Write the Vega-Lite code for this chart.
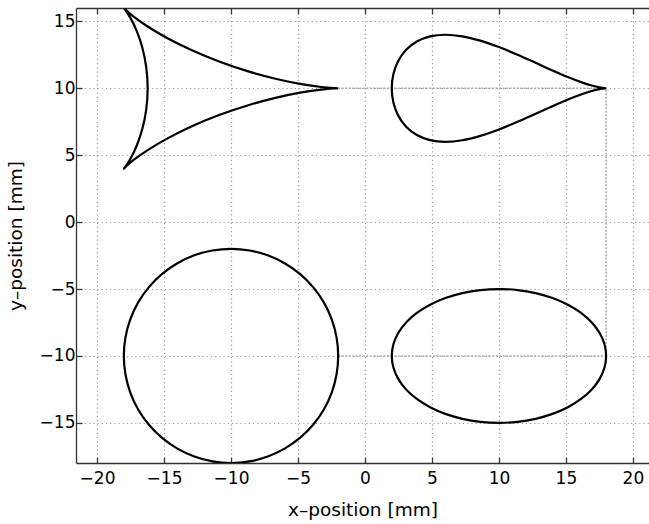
{
  "$schema": "https://vega.github.io/schema/vega-lite/v6.json",
  "width": 573,
  "height": 455,
  "autosize": "none",
  "padding": {"left": 76, "top": 8, "right": 0, "bottom": 61},
  "config": {
    "view": {"stroke": null},
    "font": "DejaVu Sans",
    "axis": {
      "domainColor": "#333333",
      "domainWidth": 1.3,
      "tickColor": "#333333",
      "tickWidth": 1.3,
      "tickSize": -6,
      "labelFontSize": 17,
      "labelColor": "#000000",
      "titleFontSize": 18.5,
      "titleFontWeight": "normal",
      "titleColor": "#000000",
      "gridColor": "#9a9a9a",
      "gridDash": [1.2, 3],
      "gridWidth": 1.2,
      "gridOpacity": 1
    }
  },
  "datasets": {
    "guide": [
      {"i": 0, "x": -2, "y": 10},
      {"i": 1, "x": 18, "y": 10},
      {"i": 2, "x": 18, "y": -10},
      {"i": 3, "x": -2, "y": -10}
    ],
    "round": [
      {"s": "c", "i": 0, "x": -2, "y": -10},
      {"s": "c", "i": 1, "x": -2.122, "y": -8.611},
      {"s": "c", "i": 2, "x": -2.482, "y": -7.264},
      {"s": "c", "i": 3, "x": -3.072, "y": -6},
      {"s": "c", "i": 4, "x": -3.872, "y": -4.858},
      {"s": "c", "i": 5, "x": -4.858, "y": -3.872},
      {"s": "c", "i": 6, "x": -6, "y": -3.072},
      {"s": "c", "i": 7, "x": -7.264, "y": -2.482},
      {"s": "c", "i": 8, "x": -8.611, "y": -2.122},
      {"s": "c", "i": 9, "x": -10, "y": -2},
      {"s": "c", "i": 10, "x": -11.389, "y": -2.122},
      {"s": "c", "i": 11, "x": -12.736, "y": -2.482},
      {"s": "c", "i": 12, "x": -14, "y": -3.072},
      {"s": "c", "i": 13, "x": -15.142, "y": -3.872},
      {"s": "c", "i": 14, "x": -16.128, "y": -4.858},
      {"s": "c", "i": 15, "x": -16.928, "y": -6},
      {"s": "c", "i": 16, "x": -17.518, "y": -7.264},
      {"s": "c", "i": 17, "x": -17.878, "y": -8.611},
      {"s": "c", "i": 18, "x": -18, "y": -10},
      {"s": "c", "i": 19, "x": -17.878, "y": -11.389},
      {"s": "c", "i": 20, "x": -17.518, "y": -12.736},
      {"s": "c", "i": 21, "x": -16.928, "y": -14},
      {"s": "c", "i": 22, "x": -16.128, "y": -15.142},
      {"s": "c", "i": 23, "x": -15.142, "y": -16.128},
      {"s": "c", "i": 24, "x": -14, "y": -16.928},
      {"s": "c", "i": 25, "x": -12.736, "y": -17.518},
      {"s": "c", "i": 26, "x": -11.389, "y": -17.878},
      {"s": "c", "i": 27, "x": -10, "y": -18},
      {"s": "c", "i": 28, "x": -8.611, "y": -17.878},
      {"s": "c", "i": 29, "x": -7.264, "y": -17.518},
      {"s": "c", "i": 30, "x": -6, "y": -16.928},
      {"s": "c", "i": 31, "x": -4.858, "y": -16.128},
      {"s": "c", "i": 32, "x": -3.872, "y": -15.142},
      {"s": "c", "i": 33, "x": -3.072, "y": -14},
      {"s": "c", "i": 34, "x": -2.482, "y": -12.736},
      {"s": "c", "i": 35, "x": -2.122, "y": -11.389},

      {"s": "e", "i": 0, "x": 18, "y": -10},
      {"s": "e", "i": 1, "x": 17.878, "y": -9.132},
      {"s": "e", "i": 2, "x": 17.518, "y": -8.29},
      {"s": "e", "i": 3, "x": 16.928, "y": -7.5},
      {"s": "e", "i": 4, "x": 16.128, "y": -6.786},
      {"s": "e", "i": 5, "x": 15.142, "y": -6.17},
      {"s": "e", "i": 6, "x": 14, "y": -5.67},
      {"s": "e", "i": 7, "x": 12.736, "y": -5.302},
      {"s": "e", "i": 8, "x": 11.389, "y": -5.076},
      {"s": "e", "i": 9, "x": 10, "y": -5},
      {"s": "e", "i": 10, "x": 8.611, "y": -5.076},
      {"s": "e", "i": 11, "x": 7.264, "y": -5.302},
      {"s": "e", "i": 12, "x": 6, "y": -5.67},
      {"s": "e", "i": 13, "x": 4.858, "y": -6.17},
      {"s": "e", "i": 14, "x": 3.872, "y": -6.786},
      {"s": "e", "i": 15, "x": 3.072, "y": -7.5},
      {"s": "e", "i": 16, "x": 2.482, "y": -8.29},
      {"s": "e", "i": 17, "x": 2.122, "y": -9.132},
      {"s": "e", "i": 18, "x": 2, "y": -10},
      {"s": "e", "i": 19, "x": 2.122, "y": -10.868},
      {"s": "e", "i": 20, "x": 2.482, "y": -11.71},
      {"s": "e", "i": 21, "x": 3.072, "y": -12.5},
      {"s": "e", "i": 22, "x": 3.872, "y": -13.214},
      {"s": "e", "i": 23, "x": 4.858, "y": -13.83},
      {"s": "e", "i": 24, "x": 6, "y": -14.33},
      {"s": "e", "i": 25, "x": 7.264, "y": -14.698},
      {"s": "e", "i": 26, "x": 8.611, "y": -14.924},
      {"s": "e", "i": 27, "x": 10, "y": -15},
      {"s": "e", "i": 28, "x": 11.389, "y": -14.924},
      {"s": "e", "i": 29, "x": 12.736, "y": -14.698},
      {"s": "e", "i": 30, "x": 14, "y": -14.33},
      {"s": "e", "i": 31, "x": 15.142, "y": -13.83},
      {"s": "e", "i": 32, "x": 16.128, "y": -13.214},
      {"s": "e", "i": 33, "x": 16.928, "y": -12.5},
      {"s": "e", "i": 34, "x": 17.518, "y": -11.71},
      {"s": "e", "i": 35, "x": 17.878, "y": -10.868}
    ],
    "cusp": [
      {"s": "t", "i": 0, "x": 18, "y": 10},
      {"s": "t", "i": 1, "x": 17.878, "y": 10.008},
      {"s": "t", "i": 2, "x": 17.518, "y": 10.064},
      {"s": "t", "i": 3, "x": 16.928, "y": 10.206},
      {"s": "t", "i": 4, "x": 16.128, "y": 10.463},
      {"s": "t", "i": 5, "x": 15.142, "y": 10.842},
      {"s": "t", "i": 6, "x": 14, "y": 11.333},
      {"s": "t", "i": 7, "x": 12.736, "y": 11.904},
      {"s": "t", "i": 8, "x": 11.389, "y": 12.506},
      {"s": "t", "i": 9, "x": 10, "y": 13.079},
      {"s": "t", "i": 10, "x": 8.611, "y": 13.559},
      {"s": "t", "i": 11, "x": 7.264, "y": 13.883},
      {"s": "t", "i": 12, "x": 6, "y": 14},
      {"s": "t", "i": 13, "x": 4.858, "y": 13.875},
      {"s": "t", "i": 14, "x": 3.872, "y": 13.495},
      {"s": "t", "i": 15, "x": 3.072, "y": 12.873},
      {"s": "t", "i": 16, "x": 2.482, "y": 12.043},
      {"s": "t", "i": 17, "x": 2.122, "y": 11.061},
      {"s": "t", "i": 18, "x": 2, "y": 10},
      {"s": "t", "i": 19, "x": 2.122, "y": 8.939},
      {"s": "t", "i": 20, "x": 2.482, "y": 7.957},
      {"s": "t", "i": 21, "x": 3.072, "y": 7.127},
      {"s": "t", "i": 22, "x": 3.872, "y": 6.505},
      {"s": "t", "i": 23, "x": 4.858, "y": 6.125},
      {"s": "t", "i": 24, "x": 6, "y": 6},
      {"s": "t", "i": 25, "x": 7.264, "y": 6.117},
      {"s": "t", "i": 26, "x": 8.611, "y": 6.441},
      {"s": "t", "i": 27, "x": 10, "y": 6.921},
      {"s": "t", "i": 28, "x": 11.389, "y": 7.494},
      {"s": "t", "i": 29, "x": 12.736, "y": 8.096},
      {"s": "t", "i": 30, "x": 14, "y": 8.667},
      {"s": "t", "i": 31, "x": 15.142, "y": 9.158},
      {"s": "t", "i": 32, "x": 16.128, "y": 9.537},
      {"s": "t", "i": 33, "x": 16.928, "y": 9.794},
      {"s": "t", "i": 34, "x": 17.518, "y": 9.936},
      {"s": "t", "i": 35, "x": 17.878, "y": 9.992},
      {"s": "t", "i": 36, "x": 18, "y": 10},

      {"s": "d", "i": 0, "x": -2, "y": 10},
      {"s": "d", "i": 1, "x": -2.323, "y": 10.012},
      {"s": "d", "i": 2, "x": -3.261, "y": 10.095},
      {"s": "d", "i": 3, "x": -4.731, "y": 10.309},
      {"s": "d", "i": 4, "x": -6.602, "y": 10.695},
      {"s": "d", "i": 5, "x": -8.713, "y": 11.264},
      {"s": "d", "i": 6, "x": -10.889, "y": 12},
      {"s": "d", "i": 7, "x": -12.959, "y": 12.856},
      {"s": "d", "i": 8, "x": -14.773, "y": 13.759},
      {"s": "d", "i": 9, "x": -16.222, "y": 14.619},
      {"s": "d", "i": 10, "x": -17.243, "y": 15.338},
      {"s": "d", "i": 11, "x": -17.823, "y": 15.825},
      {"s": "d", "i": 12, "x": -18, "y": 16},
      {"s": "d", "i": 13, "x": -17.855, "y": 15.813},
      {"s": "d", "i": 14, "x": -17.497, "y": 15.243},
      {"s": "d", "i": 15, "x": -17.048, "y": 14.309},
      {"s": "d", "i": 16, "x": -16.626, "y": 13.064},
      {"s": "d", "i": 17, "x": -16.329, "y": 11.592},
      {"s": "d", "i": 18, "x": -16.222, "y": 10},
      {"s": "d", "i": 19, "x": -16.329, "y": 8.408},
      {"s": "d", "i": 20, "x": -16.626, "y": 6.936},
      {"s": "d", "i": 21, "x": -17.048, "y": 5.691},
      {"s": "d", "i": 22, "x": -17.497, "y": 4.757},
      {"s": "d", "i": 23, "x": -17.855, "y": 4.187},
      {"s": "d", "i": 24, "x": -18, "y": 4},
      {"s": "d", "i": 25, "x": -17.823, "y": 4.175},
      {"s": "d", "i": 26, "x": -17.243, "y": 4.662},
      {"s": "d", "i": 27, "x": -16.222, "y": 5.381},
      {"s": "d", "i": 28, "x": -14.773, "y": 6.241},
      {"s": "d", "i": 29, "x": -12.959, "y": 7.144},
      {"s": "d", "i": 30, "x": -10.889, "y": 8},
      {"s": "d", "i": 31, "x": -8.713, "y": 8.736},
      {"s": "d", "i": 32, "x": -6.602, "y": 9.305},
      {"s": "d", "i": 33, "x": -4.731, "y": 9.691},
      {"s": "d", "i": 34, "x": -3.261, "y": 9.905},
      {"s": "d", "i": 35, "x": -2.323, "y": 9.988},
      {"s": "d", "i": 36, "x": -2, "y": 10}
    ]
  },
  "layer": [
    {
      "data": {"name": "guide"},
      "mark": {"type": "line", "color": "#aaaaaa", "strokeWidth": 1.6, "strokeDash": [2, 1.5], "clip": true},
      "encoding": {
        "x": {
          "field": "x", "type": "quantitative",
          "scale": {"domain": [-21.57, 21.2], "nice": false, "zero": false},
          "axis": {"orient": "bottom", "values": [-20, -15, -10, -5, 0, 5, 10, 15, 20], "title": "x–position [mm]", "labelPadding": 13, "titlePadding": 14, "grid": true}
        },
        "y": {
          "field": "y", "type": "quantitative",
          "scale": {"domain": [-18, 16], "nice": false, "zero": false},
          "axis": {"orient": "left", "values": [-15, -10, -5, 0, 5, 10, 15], "title": "y–position [mm]", "labelPadding": 7, "titlePadding": 14, "grid": true}
        },
        "order": {"field": "i", "type": "quantitative"}
      }
    },
    {
      "data": {"name": "round"},
      "mark": {"type": "line", "color": "#000000", "strokeWidth": 2.2, "interpolate": "cardinal-closed", "clip": true},
      "encoding": {
        "x": {
          "field": "x", "type": "quantitative",
          "scale": {"domain": [-21.57, 21.2], "nice": false, "zero": false},
          "axis": {"orient": "top", "values": [-20, -15, -10, -5, 0, 5, 10, 15, 20], "labels": false, "title": null, "grid": false}
        },
        "y": {"field": "y", "type": "quantitative"},
        "detail": {"field": "s", "type": "nominal"},
        "order": {"field": "i", "type": "quantitative"}
      }
    },
    {
      "data": {"name": "cusp"},
      "mark": {"type": "line", "color": "#000000", "strokeWidth": 2.2, "interpolate": "catmull-rom", "clip": true},
      "encoding": {
        "x": {"field": "x", "type": "quantitative", "axis": null},
        "y": {"field": "y", "type": "quantitative"},
        "detail": {"field": "s", "type": "nominal"},
        "order": {"field": "i", "type": "quantitative"}
      }
    }
  ],
  "resolve": {"axis": {"x": "independent"}}
}
